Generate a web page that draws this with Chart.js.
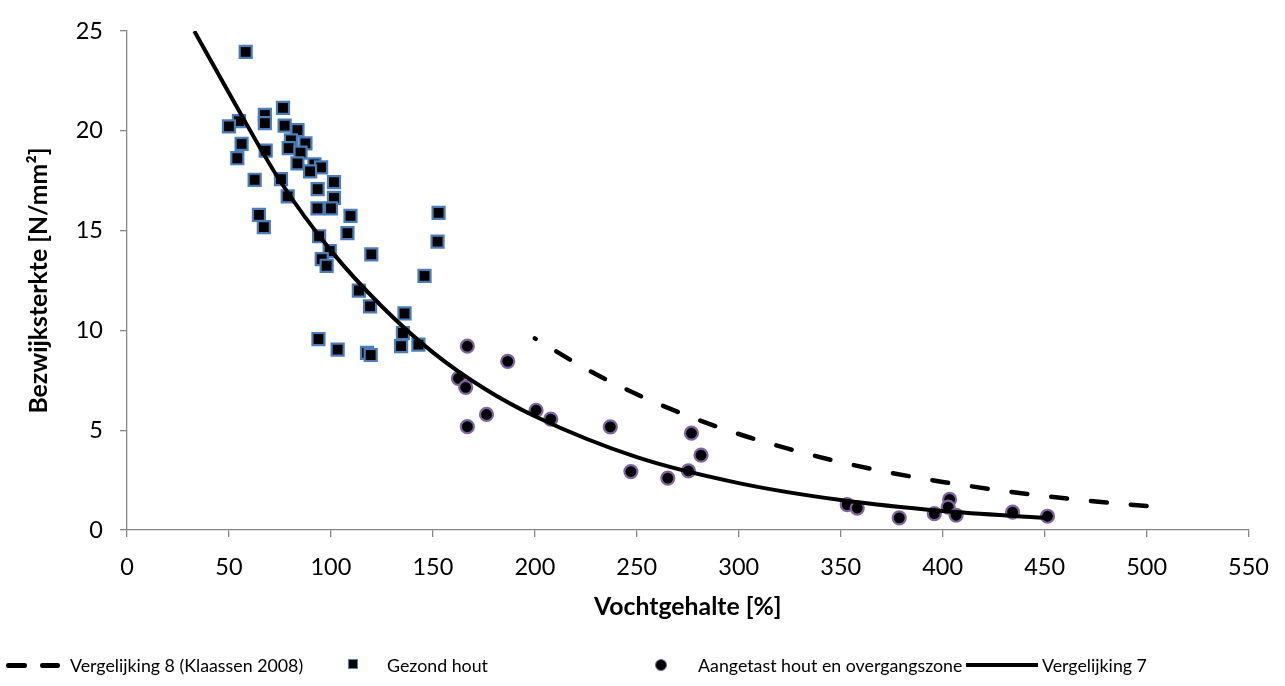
<!DOCTYPE html>
<html>
<head>
<meta charset="utf-8">
<script src="https://cdn.jsdelivr.net/npm/chart.js@4.4.1/dist/chart.umd.min.js"></script>
<style>
  html, body { margin: 0; padding: 0; background: #fff; }
  #wrap { position: relative; width: 1285px; height: 686px; overflow: hidden; font-family: Lato, "Open Sans", sans-serif; }
  #chart { position: absolute; left: 0; top: 0; }
  .lg-text { position: absolute; top: 654px; font-size: 17.8px; line-height: 22px; color: #000; white-space: nowrap; }
  .lg-dash { position: absolute; top: 663px; height: 4.5px; border-radius: 2.25px; background: #000; }
  .lg-line { position: absolute; top: 663px; height: 4px; background: #000; }
  .lg-sq { position: absolute; top: 659px; width: 8px; height: 8px; background: #000; border: 1.5px solid #4f81bd; }
  .lg-dot { position: absolute; top: 658.5px; width: 10px; height: 10px; border-radius: 50%; background: #000; border: 1.5px solid #8064a2; }
</style>
</head>
<body>
<div id="wrap">
  <canvas id="chart" width="1285" height="686"></canvas>
  <div id="legend"></div>
</div>
<script>
// values
const xTicks = [0, 50, 100, 150, 200, 250, 300, 350, 400, 450, 500, 550];
const yTicks = [0, 5, 10, 15, 20, 25];

// Gezond hout (squares)
const gezondX = [58.2, 76.5, 67.6, 67.6, 54.9, 50.0, 77.3, 83.6, 80.4, 79.3, 87.5, 56.2, 68.0, 54.1, 85.1, 83.6, 91.9,
                 95.2, 89.8, 101.5, 62.6, 75.5, 93.5, 78.8, 101.5, 93.4, 100.0, 109.6, 64.7, 67.1, 108.1, 94.2, 99.4,
                 95.5, 97.9, 119.8, 113.7, 119.2, 136.1, 135.3, 134.4, 93.9, 103.3, 117.7, 119.5, 142.9, 152.8, 152.3, 145.9];
const gezondY = [23.96, 21.15, 20.8, 20.39, 20.49, 20.23, 20.26, 20.04, 19.52, 19.14, 19.37, 19.35, 19.01, 18.63, 18.91, 18.37, 18.32,
                 18.17, 17.97, 17.43, 17.55, 17.58, 17.08, 16.72, 16.64, 16.12, 16.12, 15.74, 15.79, 15.18, 14.88, 14.72, 13.98,
                 13.57, 13.24, 13.81, 12.0, 11.21, 10.85, 9.87, 9.21, 9.57, 9.04, 8.88, 8.77, 9.29, 15.89, 14.45, 12.73];

// Aangetast hout en overgangszone (circles)
const aangetastX = [166.9, 186.7, 162.5, 166.1, 176.3, 166.9, 200.6, 207.8, 237.0, 247.1, 265.2, 275.3, 276.8, 281.5,
                    353.2, 358.1, 378.7, 395.9, 403.4, 402.7, 406.6, 434.3, 451.4];
const aangetastY = [9.21, 8.45, 7.6, 7.15, 5.79, 5.18, 6.0, 5.56, 5.17, 2.93, 2.6, 2.96, 4.85, 3.75,
                    1.27, 1.1, 0.61, 0.82, 1.53, 1.15, 0.74, 0.9, 0.69];

// Vergelijking 7 (solid curve)
const verg7X = [33, 50, 75, 100, 125, 150, 175, 200, 250, 300, 350, 400, 450];
const verg7Y = [25.0, 21.9, 17.5, 14.0, 11.2, 8.9, 7.1, 5.7, 3.65, 2.35, 1.5, 0.95, 0.61];

// Vergelijking 8 (Klaassen 2008) (dashed curve)
const verg8X = [200, 225, 250, 275, 300, 325, 350, 375, 400, 425, 450, 475, 500];
const verg8Y = [9.6, 8.08, 6.8, 5.72, 4.81, 4.05, 3.4, 2.86, 2.41, 2.03, 1.7, 1.43, 1.2];

const legendLabels = ['Vergelijking 8 (Klaassen 2008)', 'Gezond hout', 'Aangetast hout en overgangszone', 'Vergelijking 7'];

function pairs(xs, ys) {
    return xs.map(function (x, i) { return { x: x, y: ys[i] }; });
}

const AXIS_GREY = '#868686';
const FONT = 'Lato, "Open Sans", sans-serif';

function axis(min, max, ticks, title, titlePad) {
    return {
        type: 'linear',
        min: min,
        max: max,
        afterBuildTicks: function (scale) { scale.ticks = ticks.map(function (v) { return { value: v }; }); },
        ticks: { color: '#000', font: { family: FONT, size: 23.5 }, padding: 16 },
        grid: { drawOnChartArea: false, drawTicks: true, tickLength: 7, color: AXIS_GREY, lineWidth: 1.3 },
        border: { display: true, color: AXIS_GREY, width: 1.3 },
        title: { display: true, text: title, color: '#000', font: { family: FONT, size: 24.8, weight: 'bold' }, padding: titlePad }
    };
}

const xScale = axis(0, 550, xTicks, 'Vochtgehalte [%]', { top: 0, bottom: 8 });
xScale.afterFit = function (scale) { scale.height = 100; };
const yScale = axis(0, 25, yTicks, 'Bezwijksterkte [N/mm²]', { top: 24, bottom: 0 });
yScale.afterFit = function (scale) { scale.width = 127; };
yScale.ticks.padding = 17;

new Chart(document.getElementById('chart'), {
    type: 'scatter',
    data: {
        datasets: [
            {
                label: legendLabels[0],
                data: pairs(verg8X, verg8Y),
                showLine: true,
                pointRadius: 0,
                borderColor: '#000',
                borderWidth: 4.5,
                borderDash: [16, 24],
                borderDashOffset: 15,
                borderCapStyle: 'round',
                cubicInterpolationMode: 'monotone',
                order: 3
            },
            {
                label: legendLabels[1],
                data: pairs(gezondX, gezondY),
                pointStyle: 'rect',
                pointRadius: 8.5,
                borderWidth: 2.2,
                borderColor: '#4a7ebb',
                backgroundColor: '#000',
                order: 2
            },
            {
                label: legendLabels[2],
                data: pairs(aangetastX, aangetastY),
                pointStyle: 'circle',
                pointRadius: 6.5,
                borderWidth: 2.2,
                borderColor: '#8064a2',
                backgroundColor: '#000',
                order: 1
            },
            {
                label: legendLabels[3],
                data: pairs(verg7X, verg7Y),
                showLine: true,
                pointRadius: 0,
                borderColor: '#000',
                borderWidth: 4,
                borderJoinStyle: 'round',
                cubicInterpolationMode: 'monotone',
                order: 0
            }
        ]
    },
    options: {
        responsive: false,
        animation: false,
        events: [],
        layout: { padding: { left: 0, top: 23, right: 28, bottom: 56 } },
        plugins: { legend: { display: false }, tooltip: { enabled: false } },
        scales: { x: xScale, y: yScale }
    }
});

// legend below the plot, laid out like the original
(function () {
    const lg = document.getElementById('legend');
    lg.innerHTML =
        '<span class="lg-dash" style="left:6px;width:21px"></span>' +
        '<span class="lg-dash" style="left:40px;width:20px"></span>' +
        '<span class="lg-text" style="left:70px">' + legendLabels[0] + '</span>' +
        '<span class="lg-sq" style="left:347.5px"></span>' +
        '<span class="lg-text" style="left:387px">' + legendLabels[1] + '</span>' +
        '<span class="lg-dot" style="left:655px"></span>' +
        '<span class="lg-text" style="left:698px">' + legendLabels[2] + '</span>' +
        '<span class="lg-line" style="left:966px;width:72px"></span>' +
        '<span class="lg-text" style="left:1042px">' + legendLabels[3] + '</span>';
})();
</script>
</body>
</html>
